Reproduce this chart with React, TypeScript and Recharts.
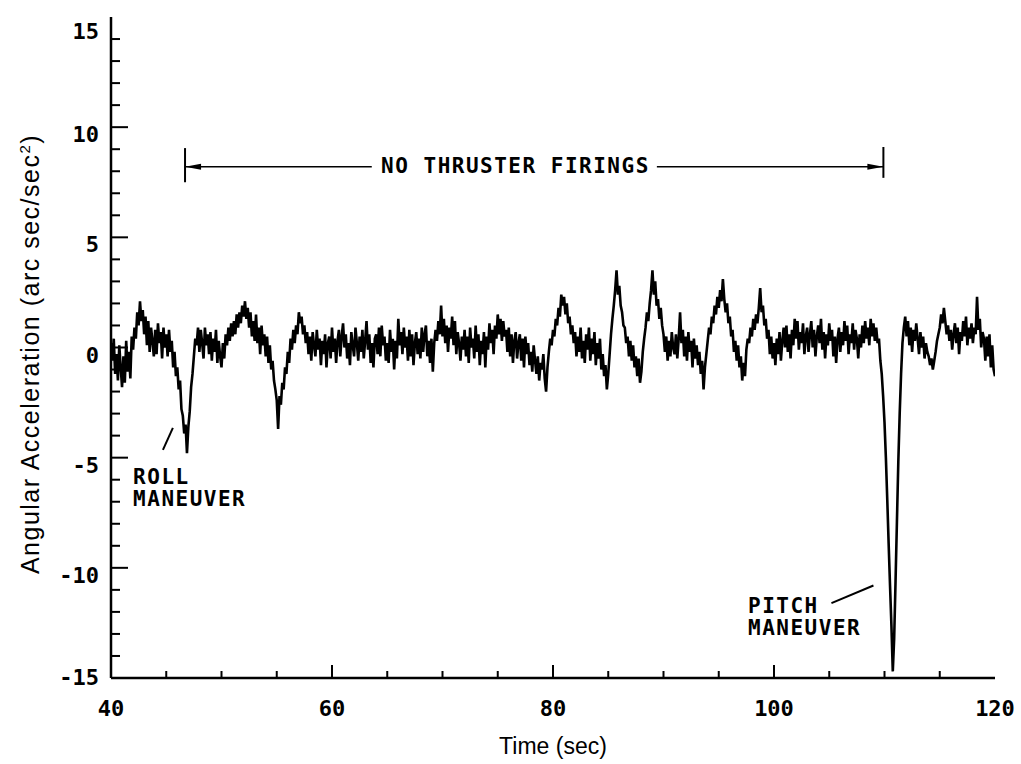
import { LineChart, Line, XAxis, YAxis, ReferenceLine, ReferenceDot, Label } from "recharts";

// sampling of the accelerometer trace
const T_START = 40;
const T_STEP = 0.125;

// angular acceleration (arc sec/sec^2), 8 samples per second, 40 s .. 120 s
const accel = [
  0.2, -0.6, 0.4, -1.2, -0.3, -1.5, 0.1, -0.9,
  -1.8, -0.4, -1.6, 0.3, -1.1, -0.2, -1.4, 0.5,
  -0.1, 0.9, 0.4, 1.6, 1.0, 2.1, 1.2, 1.7,
  0.6, 1.4, 0.1, 1.2, -0.2, 0.9, 0.3, -0.4,
  0.8, -0.3, 1.1, 0.2, 0.7, -0.5, 0.9, 0.0,
  0.6, -0.4, 0.8, -0.2, 0.3, -0.9, -0.2, -1.3,
  -0.9, -1.9, -1.5, -2.8, -3.1, -3.9, -3.5, -4.8,
  -3.6, -2.9, -1.8, -1.2, -0.4, 0.4, 0.1, 0.9,
  -0.2, 0.8, 0.2, -0.5, 0.9, 0.1, 0.6, -0.3,
  0.7, -0.6, 0.4, -0.2, 0.8, -0.7, 0.3, -0.4,
  -0.9, 0.2, -0.5, 0.6, 0.1, 0.9, 0.3, 1.1,
  0.5, 1.2, 0.6, 1.5, 0.9, 1.6, 1.1, 1.9,
  1.4, 2.1, 1.3, 1.8, 0.9, 1.6, 0.5, 1.2,
  0.3, 1.5, 0.2, 0.9, -0.3, 1.0, 0.1, 0.6,
  -0.4, 0.5, -0.7, 0.1, -1.0, -0.6, -1.5, -1.9,
  -2.4, -3.7, -2.2, -2.6, -1.6, -1.9, -0.9, -1.2,
  -0.2, -0.7, 0.4, -0.1, 0.8, 0.2, 1.0, 0.6,
  1.6, 1.1, 1.4, 0.6, 1.0, 0.2, 0.7, -0.3,
  0.5, -0.6, 0.7, 0.1, -0.4, 0.8, -0.1, 0.4,
  -0.8, 0.3, -0.3, 0.6, -0.9, 0.2, 0.5, -0.5,
  0.9, -0.2, 0.4, -0.7, 0.3, 0.8, -0.4, 0.5,
  1.1, 0.0, 0.6, -0.5, 0.2, -0.8, 0.7, 0.1,
  -0.4, 0.9, 0.2, -0.6, 0.5, -0.2, 0.8, -0.5,
  0.3, 1.2, -0.1, 0.6, -0.7, 0.2, -0.9, 0.4,
  0.6, -0.3, 0.9, -0.4, 1.0, 0.1, 0.5, -0.6,
  0.2, -0.7, 0.8, -0.2, 0.4, -1.0, 0.3, -0.5,
  1.3, 0.1, 0.7, -0.3, 0.9, 0.0, 0.5, -0.6,
  0.8, -0.4, 0.6, -0.8, 0.2, 0.7, -0.3, 0.4,
  -0.5, 0.9, -0.2, 0.6, 1.0, -0.4, 0.3, -0.7,
  0.4, -1.1, 0.2, 0.8, 0.3, 1.2, 0.6, 1.9,
  0.5, 1.3, 0.2, 1.0, -0.2, 0.9, 0.4, 1.4,
  0.1, 1.2, -0.3, 0.7, 0.2, -0.6, 0.5, -0.1,
  0.8, -0.4, 0.5, -0.7, 0.9, 0.0, 0.4, -0.5,
  1.0, -0.2, 0.6, -0.8, 0.3, -0.3, 0.7, -0.9,
  0.5, -0.1, 1.1, 0.2, 0.8, -0.3, 1.0, 0.4,
  1.5, 0.6, 1.3, 0.3, 1.2, 0.5, 0.8, -0.2,
  0.9, -0.4, 0.6, -0.7, 0.3, 0.7, -0.5, 0.2,
  0.6, -0.6, 0.4, -0.9, 0.5, -0.3, 0.2, -0.8,
  -0.2, -1.1, 0.1, -0.6, -1.2, -0.4, -1.5, -0.7,
  -1.0, -0.3, -1.4, -2.0, -0.9, -0.2, 0.4, 0.1,
  0.8, 0.5, 1.3, 1.0, 1.8, 1.4, 2.4, 1.9,
  2.3, 1.5, 2.0, 1.1, 1.4, 0.6, 1.0, 0.2,
  0.7, -0.4, 0.5, -0.2, 0.9, -0.5, 0.3, -0.7,
  0.6, -0.1, 0.9, -0.6, 0.4, -0.3, 0.7, -0.8,
  0.2, -0.5, 0.4, -1.0, -0.3, -1.3, -0.8, -1.9,
  -1.2, -0.3, 0.6, 1.3, 1.9, 2.6, 3.5, 2.4,
  2.8, 1.9, 1.6, 1.0, 0.9, 0.2, 0.5, -0.4,
  0.3, -0.6, 0.1, -0.9, -0.4, -1.3, -0.5, -1.6,
  -1.1, -0.2, 0.4, 0.9, 1.6, 1.2, 2.0, 2.6,
  3.5, 2.4, 3.0, 1.9, 2.2, 1.3, 1.8, 1.0,
  0.6, -0.2, 0.5, -0.6, 0.3, -0.4, 0.7, 0.0,
  -0.3, 0.6, -0.5, 0.4, 1.6, 0.2, 0.8, -0.4,
  0.5, -0.6, 0.7, -0.2, 0.3, -0.9, 0.4, -0.5,
  0.1, -0.8, -0.2, -1.2, -0.6, -1.9, -0.9, -0.3,
  0.3, 0.9, 0.6, 1.4, 1.1, 1.9, 1.5, 2.3,
  1.8, 2.6, 2.1, 3.1, 2.2, 1.6, 2.0, 1.1,
  1.4, 0.5, 0.8, -0.2, 0.3, -0.6, 0.1, -0.9,
  -0.4, -1.5, -0.7, -1.3, -0.1, 0.4, 0.2, 0.9,
  0.5, 1.3, 0.8, 1.5, 1.1, 1.8, 2.7, 1.6,
  1.9, 1.0, 1.3, 0.4, 0.8, -0.3, 0.5, -0.5,
  0.2, -0.8, 0.4, -0.3, 0.7, -0.6, 0.3, 0.9,
  0.0, 1.0, -0.2, 0.6, -0.5, 0.8, 0.1, 1.3,
  0.4, 1.2, -0.1, 0.7, 0.2, 1.1, -0.3, 0.5,
  0.9, -0.2, 0.6, 1.2, 0.0, 0.8, -0.4, 0.5,
  1.0, 0.2, 1.3, -0.1, 0.7, -0.5, 0.6, 0.1,
  1.1, 0.3, 0.8, -0.4, 0.5, -0.7, 0.4, 0.9,
  -0.2, 0.7, 0.1, 1.2, 0.3, 1.0, -0.3, 0.6,
  0.2, 1.1, -0.1, 0.8, 0.4, -0.5, 0.6, 0.0,
  1.0, 0.2, 1.2, 0.4, 0.9, 0.1, 1.3, 0.5,
  1.1, 0.3, 0.9, 0.2, 0.4, -0.6, -1.2, -2.2,
  -3.4, -5.0, -6.9, -8.9, -10.8, -12.6, -14.7, -13.2,
  -10.6, -7.9, -5.2, -3.0, -1.2, 0.2, 0.9, 1.4,
  0.5, 1.2, 0.1, 0.9, -0.2, 0.8, 0.3, 1.1,
  0.4, -0.3, 0.7, 0.0, 0.5, -0.5, 0.2, -0.2,
  -0.4, -0.8, -0.5, -1.0, -0.6, -0.2, 0.3, 0.6,
  0.9, 1.5, 1.1, 1.8, 1.2, 0.6, 1.0, 0.3,
  0.8, -0.1, 0.6, 1.1, 0.2, 0.9, -0.3, 0.7,
  0.3, 1.2, 0.5, 1.4, 0.1, 0.9, 0.4, 1.1,
  0.2, 0.9, 0.6, 2.3, 0.8, 1.3, 0.0, 0.7,
  0.4, -0.6, 0.5, -0.4, 0.6, -0.9, 0.1, -1.0,
  -1.3,
];

const xTicks = [40, 45, 50, 55, 60, 65, 70, 75, 80, 85, 90, 95, 100, 105, 110, 115, 120];
const xLabels = [40, 60, 80, 100, 120];
const yTicks = [
  -15, -14, -13, -12, -11, -10, -9, -8, -7, -6, -5, -4, -3, -2, -1, 0,
  1, 2, 3, 4, 5, 6, 7, 8, 9, 10, 11, 12, 13, 14, 15,
];
const yLabels = [-15, -10, -5, 0, 5, 10, 15];

// "NO THRUSTER FIRINGS" span
const quietStart = 46.7;
const quietEnd = 109.9;

const data = accel.map((v, i) => ({ t: T_START + i * T_STEP, v }));

const MONO = "'DejaVu Sans Mono', 'Liberation Mono', monospace";
const SANS = "'Liberation Sans', Arial, sans-serif";

function BottomTick({ x, y, payload }: any) {
  const v = payload.value;
  const edge = v === 40 || v === 120;
  const major = xLabels.includes(v);
  return (
    <g>
      {!edge && <line x1={x} y1={y} x2={x} y2={y - (major ? 13 : 7)} stroke="#000" strokeWidth={2} />}
      {major && (
        <text x={x} y={y + 38} textAnchor="middle" fontFamily={MONO} fontWeight="bold" fontSize={22} fill="#000">
          {v}
        </text>
      )}
    </g>
  );
}

function TopTick({ x, y, payload }: any) {
  const v = payload.value;
  if (v === 40 || v === 120) return <g />;
  const major = xLabels.includes(v);
  return <line x1={x} y1={y} x2={x} y2={y + (major ? 10 : 6)} stroke="#000" strokeWidth={2} />;
}

function LeftTick({ x, y, payload }: any) {
  const v = payload.value;
  const edge = v === 15 || v === -15;
  const major = yLabels.includes(v);
  let base = y + 15;
  if (v === 15) base = y + 22;
  if (v === -15) base = y + 7;
  return (
    <g>
      {!edge && <line x1={x} y1={y} x2={x + (major ? 17 : 9)} y2={y} stroke="#000" strokeWidth={2} />}
      {major && (
        <text x={x - 12} y={base} textAnchor="end" fontFamily={MONO} fontWeight="bold" fontSize={22} fill="#000">
          {v}
        </text>
      )}
    </g>
  );
}

function RightTick({ x, y, payload }: any) {
  const v = payload.value;
  if (v === 15 || v === -15) return <g />;
  const major = yLabels.includes(v);
  return <line x1={x} y1={y} x2={x - (major ? 18 : 10)} y2={y} stroke="#000" strokeWidth={2} />;
}

const note = (lines: string[], anchor: string = "start") => (p: any) => (
  <text x={p.cx} y={p.cy} textAnchor={anchor} fontFamily={MONO} fontWeight="bold" fontSize={21} letterSpacing={1.5} fill="#000">
    {lines.map((s, i) => (
      <tspan key={i} x={p.cx} dy={i === 0 ? 7 : 22}>
        {s}
      </tspan>
    ))}
  </text>
);

const arrowLeft = (p: any) => <path d={`M${p.cx},${p.cy} l16,-3 l0,6 z`} fill="#000" />;
const arrowRight = (p: any) => <path d={`M${p.cx},${p.cy} l-16,-3 l0,6 z`} fill="#000" />;

export default function App() {
  return (
    <div style={{ position: "absolute", left: 0, top: 0, width: 1021, height: 764, background: "#fff" }}>
      <LineChart width={1021} height={764} data={data} margin={{ top: 17, right: 26, left: 0, bottom: 0 }}>
        <XAxis
          dataKey="t"
          type="number"
          domain={[40, 120]}
          ticks={xTicks}
          interval={0}
          height={86}
          tickSize={0}
          tickMargin={0}
          tickLine={false}
          tick={<BottomTick />}
          axisLine={{ stroke: "#000", strokeWidth: 2.5 }}
          allowDataOverflow
        >
          <Label
            content={({ viewBox }: any) => (
              <text x={viewBox.x + viewBox.width / 2} y={viewBox.y + 76} textAnchor="middle" fontFamily={SANS} fontSize={23} fill="#000">
                Time (sec)
              </text>
            )}
          />
        </XAxis>
        <XAxis
          xAxisId="top"
          orientation="top"
          type="number"
          domain={[40, 120]}
          ticks={xTicks}
          interval={0}
          height={0}
          tickSize={0}
          tickMargin={0}
          tickLine={false}
          tick={<TopTick />}
          axisLine={{ stroke: "#000", strokeWidth: 2.5 }}
        />
        <YAxis
          type="number"
          domain={[-15, 15]}
          ticks={yTicks}
          interval={0}
          width={111}
          tickSize={0}
          tickMargin={0}
          tickLine={false}
          tick={<LeftTick />}
          axisLine={{ stroke: "#000", strokeWidth: 2.5 }}
          allowDataOverflow
        >
          <Label
            content={() => {
              const cx = 39;
              const cy = 354;
              return (
                <text x={cx} y={cy} transform={`rotate(-90 ${cx} ${cy})`} textAnchor="middle" fontFamily={SANS} fontSize={25} letterSpacing={1.5} fill="#000">
                  Angular Acceleration (arc sec/sec
                  <tspan dy={-9} fontSize={15}>2</tspan>
                  <tspan dy={9}>)</tspan>
                </text>
              );
            }}
          />
        </YAxis>
        <YAxis
          yAxisId="right"
          orientation="right"
          type="number"
          domain={[-15, 15]}
          ticks={yTicks}
          interval={0}
          width={0}
          tickSize={0}
          tickMargin={0}
          tickLine={false}
          tick={<RightTick />}
          axisLine={{ stroke: "#000", strokeWidth: 2.5 }}
        />

        <Line
          dataKey="v"
          type="linear"
          stroke="#000"
          strokeWidth={2.6}
          dot={false}
          isAnimationActive={false}
        />

        {/* no-thruster span: end bars, arrow shafts, arrowheads, caption */}
        <ReferenceLine segment={[{ x: quietStart, y: 9.05 }, { x: quietStart, y: 7.5 }]} stroke="#000" strokeWidth={2} ifOverflow="visible" />
        <ReferenceLine segment={[{ x: quietEnd, y: 9.1 }, { x: quietEnd, y: 7.7 }]} stroke="#000" strokeWidth={2} ifOverflow="visible" />
        <ReferenceLine segment={[{ x: quietStart, y: 8.2 }, { x: 63.6, y: 8.2 }]} stroke="#000" strokeWidth={1.5} ifOverflow="visible" />
        <ReferenceLine segment={[{ x: 89.4, y: 8.2 }, { x: quietEnd, y: 8.2 }]} stroke="#000" strokeWidth={1.5} ifOverflow="visible" />
        <ReferenceDot x={quietStart} y={8.2} r={1} shape={arrowLeft} ifOverflow="visible" />
        <ReferenceDot x={quietEnd} y={8.2} r={1} shape={arrowRight} ifOverflow="visible" />
        <ReferenceDot x={76.6} y={8.25} r={1} shape={note(["NO THRUSTER FIRINGS"], "middle")} ifOverflow="visible" />

        {/* maneuver call-outs */}
        <ReferenceLine segment={[{ x: 44.7, y: -4.65 }, { x: 45.6, y: -3.65 }]} stroke="#000" strokeWidth={2} ifOverflow="visible" />
        <ReferenceDot x={42.0} y={-5.9} r={1} shape={note(["ROLL", "MANEUVER"])} ifOverflow="visible" />
        <ReferenceLine segment={[{ x: 105.2, y: -11.6 }, { x: 109.0, y: -10.8 }]} stroke="#000" strokeWidth={2} ifOverflow="visible" />
        <ReferenceDot x={97.65} y={-11.75} r={1} shape={note(["PITCH", "MANEUVER"])} ifOverflow="visible" />
      </LineChart>
    </div>
  );
}
